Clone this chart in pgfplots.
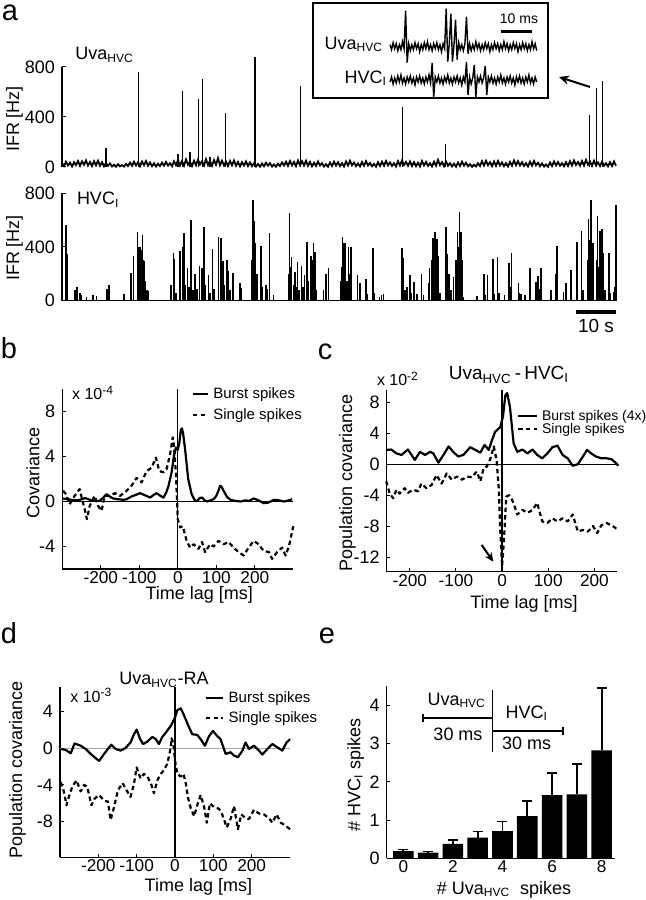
\documentclass[border=0pt]{standalone}
\usepackage{fontspec}
\setmainfont{Liberation Sans}
\usepackage{pgfplots}
\pgfplotsset{compat=1.18}
\usepackage{pgfplotstable}
\usetikzlibrary{arrows.meta}
\newcommand\fs[1]{\fontsize{#1}{#1}\selectfont}

\tikzset{
  solidc/.style={black, line width=1.1pt, line join=round},
  dashc/.style={black, line width=1.1pt, dash pattern=on 2.2pt off 1.6pt, line join=round},
}
\pgfplotsset{
  myax/.style={scale only axis, anchor=south west, axis line style={line width=0.6pt, black},
    tick align=inside, major tick length=1.8pt, tick style={line width=0.5pt, black},
    tick label style={font=\fs{9}}, xticklabel style={inner sep=1pt, font=\fs{8.6}},
    /pgf/number format/assume math mode=true, clip=false},
  lr/.style={axis x line*=bottom, axis y line*=left},
}

% ---- panel a: Uva_HVC baseline IFR (0.5 s steps)
\pgfplotstableread[header=false,row sep=\\]{
30\\8\\42\\12\\35\\5\\38\\15\\48\\10\\45\\18\\52\\12\\40\\8\\46\\14\\50\\10\\
38\\6\\32\\10\\28\\4\\18\\2\\22\\6\\15\\3\\25\\8\\35\\10\\42\\12\\38\\6\\
44\\14\\48\\10\\36\\6\\30\\4\\26\\8\\34\\10\\40\\12\\30\\6\\45\\15\\55\\12\\
48\\10\\60\\18\\42\\8\\50\\14\\58\\20\\45\\12\\62\\16\\48\\10\\55\\18\\70\\14\\
50\\12\\44\\8\\48\\14\\52\\10\\40\\6\\38\\12\\44\\8\\36\\6\\30\\4\\24\\2\\
28\\6\\34\\10\\30\\4\\20\\2\\26\\8\\36\\12\\42\\10\\48\\14\\40\\8\\52\\16\\
46\\12\\50\\10\\40\\6\\34\\8\\44\\12\\30\\4\\22\\2\\36\\8\\42\\10\\38\\6\\
30\\4\\44\\12\\50\\14\\36\\6\\28\\4\\40\\10\\46\\12\\32\\6\\24\\2\\38\\8\\
42\\10\\48\\14\\36\\8\\30\\4\\46\\12\\52\\16\\40\\10\\44\\8\\38\\6\\34\\4\\
48\\12\\40\\8\\30\\4\\42\\10\\56\\14\\38\\6\\44\\10\\30\\4\\26\\2\\36\\8\\
42\\10\\34\\6\\22\\2\\18\\4\\30\\8\\46\\12\\50\\14\\38\\6\\44\\10\\48\\12\\
36\\6\\30\\4\\40\\10\\52\\14\\46\\12\\38\\8\\30\\4\\42\\10\\48\\14\\34\\6\\
28\\4\\20\\2\\36\\8\\44\\12\\40\\10\\30\\6\\38\\8\\46\\12\\52\\16\\40\\10\\
48\\12\\56\\18\\44\\10\\50\\14\\36\\8\\42\\10\\30\\6\\38\\8\\44\\10\\
}\uvabase

\pgfplotstableread{
t v
11 152
19.2 762
29 104
30.2 608
32 122
34.1 541
35.1 706
37 82
40.9 429
48.25 877
59.7 648
85.1 482
95.9 181
131.8 416
133.7 629
135.1 691
}\uvaspk

\pgfplotstableread[row sep=\\]{
t v\\
1.0 564\\ 1.17 360\\ 1.4 350\\ 3.25 80\\ 3.8 100\\ 4.5 60\\ 4.9 40\\ 6.2 30\\ 7.8 40\\ 8.7 35\\
11.3 90\\ 11.75 120\\ 15.5 50\\ 17.2 204\\ 17.8 333\\ 18.9 514\\ 19.2 400\\ 19.5 400\\ 19.8 380\\ 20.1 489\\
20.3 300\\ 20.5 293\\ 20.8 150\\ 21.2 80\\ 21.6 70\\ 27.25 117\\ 27.8 353\\ 28.0 313\\ 28.5 60\\ 29.5 372\\
30.2 398\\ 30.5 507\\ 30.8 120\\ 31.3 241\\ 31.7 100\\ 32.25 601\\ 32.7 80\\ 33.25 199\\ 33.7 90\\ 34.3 258\\
35.0 241\\ 35.5 551\\ 35.8 120\\ 36.6 189\\ 37.0 60\\ 37.6 383\\ 38.0 90\\ 39.1 477\\ 39.7 465\\ 40.2 298\\
40.5 120\\ 41.2 305\\ 41.6 224\\ 42.0 80\\ 42.7 206\\ 44.5 130\\ 44.7 96\\ 47.5 300\\ 47.7 750\\ 47.8 450\\
48.0 596\\ 48.25 300\\ 48.4 427\\ 48.7 200\\ 49.75 408\\ 50.0 100\\ 51.0 117\\ 51.4 90\\ 51.8 502\\ 52.8 40\\
56.7 200\\ 56.8 656\\ 57.2 250\\ 57.4 328\\ 57.8 120\\ 58.2 216\\ 58.5 100\\ 58.9 285\\ 59.25 80\\ 59.9 258\\
60.25 100\\ 60.6 189\\ 61.2 440\\ 61.6 150\\ 62.2 333\\ 62.5 300\\ 62.8 427\\ 63.0 200\\ 63.25 363\\ 63.5 80\\
65.3 80\\ 66.0 199\\ 66.6 241\\ 69.7 150\\ 69.9 250\\ 70.1 477\\ 70.3 300\\ 70.5 430\\ 70.75 200\\ 70.9 432\\
71.2 150\\ 71.6 400\\ 71.8 200\\ 72.2 400\\ 72.4 80\\ 73.9 191\\ 74.5 130\\ 76.0 159\\ 76.3 50\\ 77.7 395\\
78.0 60\\ 79.3 30\\ 79.9 40\\ 80.3 50\\ 85.0 395\\ 85.2 250\\ 85.3 316\\ 85.75 80\\ 86.2 100\\ 87.0 189\\
87.4 60\\ 88.0 140\\ 88.7 50\\ 89.9 199\\ 90.3 40\\ 91.6 130\\ 91.8 241\\ 92.4 300\\ 92.7 465\\ 93.0 380\\
93.25 514\\ 93.5 300\\ 93.7 457\\ 94.1 333\\ 94.5 60\\ 96.0 551\\ 96.2 350\\ 96.4 313\\ 96.7 200\\ 96.8 180\\
97.2 80\\ 97.8 180\\ 98.5 300\\ 98.8 514\\ 99.1 400\\ 99.3 663\\ 99.5 450\\ 99.75 514\\ 100.0 300\\ 100.3 30\\
103.7 35\\ 105.5 199\\ 105.75 40\\ 106.4 191\\ 107.7 313\\ 108.0 50\\ 108.9 323\\ 109.2 60\\ 110.6 45\\ 111.75 283\\
112.0 100\\ 112.4 353\\ 114.1 135\\ 114.3 60\\ 114.7 50\\ 115.75 40\\ 117.0 241\\ 118.5 140\\ 119.0 182\\ 119.3 90\\
119.7 241\\ 119.9 60\\ 122.2 80\\ 123.5 197\\ 123.75 408\\ 125.3 65\\ 126.0 135\\ 127.25 231\\ 128.7 440\\ 128.9 60\\
129.9 522\\ 130.2 80\\ 131.4 300\\ 131.6 606\\ 131.8 398\\ 132.0 450\\ 132.25 750\\ 132.5 400\\ 132.7 430\\ 132.9 150\\
133.7 300\\ 133.9 631\\ 134.2 250\\ 134.5 522\\ 134.75 400\\ 135.0 532\\ 135.3 353\\ 135.7 80\\ 136.75 355\\ 137.0 60\\
137.8 65\\ 138.2 100\\ 138.5 713\\ 138.65 333\\
}\hvcspk

% ---- inset raw traces (0.5 ms steps)
\pgfplotstableread[header=false,row sep=\\]{
2\\-3\\4\\-2\\3\\-4\\2\\-3\\5\\-2\\
36\\-16\\3\\-4\\2\\-3\\4\\-2\\3\\-5\\
2\\-3\\4\\-2\\5\\-3\\2\\-4\\3\\-2\\
4\\-3\\2\\-5\\3\\-2\\38\\-15\\3\\33\\
-15\\2\\27\\-13\\4\\-3\\2\\-4\\3\\30\\
-7\\3\\-4\\2\\-3\\5\\-2\\3\\-4\\2\\
-3\\4\\-2\\3\\-5\\2\\-3\\4\\-2\\3\\
-4\\2\\-3\\5\\-2\\3\\-4\\2\\-3\\4\\
-2\\3\\-5\\2\\-3\\4\\-2\\3\\-4\\2\\
-3\\5\\-2\\3\\-4\\
}\insuva
\pgfplotstableread[header=false,row sep=\\]{
-2\\3\\-4\\2\\-3\\4\\-2\\5\\-3\\2\\
-4\\3\\-2\\4\\-3\\2\\-5\\3\\-2\\4\\
-3\\2\\-4\\3\\-2\\5\\-3\\17\\-17\\3\\
-2\\4\\-3\\2\\-4\\3\\-2\\5\\-3\\2\\
-4\\3\\-2\\4\\-3\\2\\-5\\3\\-2\\18\\
-15\\3\\-4\\2\\15\\-17\\3\\-2\\4\\-3\\
2\\14\\-15\\3\\-2\\4\\-3\\2\\-4\\3\\
-2\\5\\-3\\2\\-4\\3\\-2\\4\\-3\\2\\
-5\\3\\-2\\4\\-3\\2\\-4\\3\\-2\\5\\
-3\\2\\-4\\3\\-2\\
}\inshvc

\begin{document}
\begin{tikzpicture}[x=1pt,y=1pt]
\useasboundingbox (0,0) rectangle (322.5,450);

% ================= panel a =================
\begin{axis}[myax, at={(31pt,366.5pt)}, width=277pt, height=50pt,
  xmin=0, xmax=138.5, ymin=0, ymax=800, axis x line=none, axis y line*=left,
  xtick=\empty, ytick={0,400,800}]
\addplot[black, line width=0.9pt, line join=miter] table[x expr=\coordindex*0.5, y index=0] {\uvabase};
\addplot[ycomb, black, line width=0.6pt] table[x index=0, y index=1] {\uvaspk};
\end{axis}

\begin{axis}[myax, at={(31pt,299.65pt)}, width=277.5pt, height=53.7pt,
  xmin=0, xmax=138.75, ymin=0, ymax=800, axis x line=none, axis y line*=left,
  xtick=\empty, ytick={0,400,800}]
\addplot[black, line width=0.7pt] coordinates {(0,0) (138.75,0)};
\addplot[ycomb, black, line width=0.7pt] table[x index=0, y index=1] {\hvcspk};
\end{axis}

% inset
\begin{axis}[scale only axis, anchor=south west, at={(195pt,416.65pt)}, width=73.35pt, height=30pt,
  xmin=0, xmax=47, ymin=-20, ymax=40, hide axis, clip=false]
\addplot[black, line width=0.7pt] table[x expr=\coordindex*0.5, y index=0] {\insuva};
\end{axis}
\begin{axis}[scale only axis, anchor=south west, at={(195pt,400pt)}, width=73.35pt, height=20pt,
  xmin=0, xmax=47, ymin=-20, ymax=20, hide axis, clip=false]
\addplot[black, line width=0.7pt] table[x expr=\coordindex*0.5, y index=0] {\inshvc};
\end{axis}
\draw[line width=0.8pt] (156.5,401) rectangle (274,448.5);
\node[anchor=base east, font=\fs{9}, inner sep=0] at (191.7,425.3) {Uva\textsubscript{HVC}};
\node[anchor=base east, font=\fs{9}, inner sep=0] at (193.7,408.3) {HVC\textsubscript{I}};
\draw[line width=1.6pt] (250.5,434.2) -- (266.2,434.2);
\node[anchor=base, font=\fs{7}, inner sep=0] at (259.5,438) {10 ms};
\draw[-{Stealth[length=5pt,width=4.5pt]}, line width=1pt] (295,406.5) -- (279.5,411.5);

\node[font=\fs{14.5}, inner sep=0] at (5,443.5) {a};
\node[anchor=base west, font=\fs{9}, inner sep=0] at (37.5,420) {Uva\textsubscript{HVC}};
\node[anchor=base west, font=\fs{9}, inner sep=0] at (38.3,347.5) {HVC\textsubscript{I}};
\node[rotate=90, font=\fs{9}, inner sep=0] at (7.25,390.5) {IFR [Hz]};
\node[rotate=90, font=\fs{9}, inner sep=0] at (7.25,326) {IFR [Hz]};
\draw[line width=1.7pt] (288,294) -- (308,294);
\node[anchor=base, font=\fs{9.5}, inner sep=0] at (298,283.5) {10 s};

% ================= panel b =================
\begin{axis}[myax, lr, at={(31.15pt,165.5pt)}, width=115.5pt, height=90pt,
  xmin=-300, xmax=300, ymin=-6, ymax=10,
  xtick={-200,-100,0,100,200}, ytick={-4,0,4,8}]
\addplot[black, line width=0.5pt] coordinates {(-300,0) (300,0)};
\addplot[black, line width=0.6pt] coordinates {(0,-6) (0,10)};
\addplot[dashc] coordinates {
(-298,0.95) (-290,0.65) (-281,-0.24) (-268,0.5) (-255,1.1) (-242,-0.68) (-236,-1.57) (-229,-0.4)
(-216,0.5) (-207,-0.4) (-198,-0.83) (-190,0.5) (-177,0.5) (-163,0.74) (-150,0.5) (-133,0.95)
(-120,1.4) (-107,2.1) (-94,1.7) (-81,2.7) (-68,3.0) (-57,3.9) (-48,2.7) (-37,2.6) (-29,2.9)
(-20,4.2) (-13,5.7) (-10,4.9) (-5,2.6) (0,-1.57) (6,-2.3) (13,-2.2) (23,-3.5) (32,-4.1) (41,-3.8)
(54,-4.2) (63,-3.6) (71,-4.5) (84,-3.8) (93,-4.0) (106,-3.5) (119,-3.8) (132,-3.6) (145,-4.1)
(158,-4.5) (171,-4.8) (184,-4.1) (197,-3.5) (210,-3.8) (223,-4.4) (237,-4.5) (245,-5.1)
(258,-4.5) (271,-4.1) (280,-4.8) (289,-3.95) (300,-2.2)};
\addplot[solidc] coordinates {
(-300,0.27) (-285,0.2) (-270,0.1) (-255,0.15) (-240,0.3) (-225,0.1) (-210,0.05) (-203,0.06)
(-195,0.3) (-185,0.65) (-175,0.4) (-168,0.27) (-155,0.2) (-140,0.15) (-133,0.2) (-120,0.45)
(-108,0.6) (-98,0.74) (-85,0.55) (-72,0.35) (-62,0.6) (-55,0.74) (-45,0.5) (-37,0.35) (-30,0.8)
(-24,1.4) (-16,2.6) (-10,4.06) (-5,4.8) (0,4.6) (4,5.2) (8,6.4) (11,6.5) (14,6.0) (19,4.65)
(27,2.0) (36,0.65) (44,0.1) (50,0.05) (57,0.3) (63,0.35) (70,0.1) (76,0) (85,0.1) (93,0.2)
(100,0.5) (106,1.0) (110,1.4) (114,1.3) (119,0.95) (128,0.4) (137,0.15) (150,0.05) (163,0)
(175,0.1) (185,0.05) (197,0.27) (210,0.1) (223,-0.15) (235,-0.1) (250,0.15) (262,0.1) (276,0)
(288,0.1) (297,0.2)};
\end{axis}
\node[font=\fs{14.5}, inner sep=0] at (4.5,276) {b};
\node[anchor=base west, font=\fs{8}, inner sep=0] at (35.85,250) {x 10\textsuperscript{-4}};
\node[rotate=90, font=\fs{9}, inner sep=0] at (16.5,213.5) {Covariance};
\node[font=\fs{9}, inner sep=0] at (99.6,152.8) {Time lag [ms]};
\draw[solidc] (96.5,252.85) -- (104,252.85);
\node[anchor=west, font=\fs{7.5}, inner sep=0] at (106.5,252.5) {Burst spikes};
\draw[dashc] (96.5,242.5) -- (104,242.5);
\node[anchor=west, font=\fs{7.5}, inner sep=0] at (106.5,242.2) {Single spikes};

% ================= panel c =================
\begin{axis}[myax, lr, at={(193.35pt,164.15pt)}, width=115.4pt, height=90.85pt,
  xmin=-250, xmax=250, ymin=-13.9, ymax=9.6,
  xtick={-200,-100,0,100,200}, ytick={-12,-8,-4,0,4,8}]
\addplot[black, line width=0.5pt] coordinates {(-250,0) (250,0)};
\addplot[black, line width=0.7pt] coordinates {(0,-13.9) (0,9.6)};
\addplot[dashc] coordinates {
(-251,-2.2) (-244,-3.7) (-236,-4.4) (-229,-3.3) (-222,-3.8) (-211,-3.1) (-204,-3.7) (-193,-3.3)
(-182,-3.5) (-175,-2.5) (-164,-3.1) (-153,-2.7) (-142,-1.4) (-131,-2.5) (-120,-1.2) (-109,-2.0)
(-98,-1.6) (-87,-2.0) (-76,-1.6) (-66,-1.7) (-55,-0.95) (-47,-2.2) (-40,-0.5) (-33,-0.3)
(-25,0.77) (-18,2.3) (-12,0.56) (-7,-3.3) (-4,-8.5) (0,-13.2) (4,-9.8) (9,-4.2) (15,-4.0)
(20,-4.4) (25,-5.1) (33,-6.5) (44,-5.9) (55,-6.3) (66,-5.9) (76,-5.0) (87,-7.4) (98,-7.6)
(109,-7.0) (120,-7.4) (131,-7.0) (142,-7.4) (153,-6.5) (164,-8.7) (175,-8.5) (186,-8.7)
(197,-8.0) (206,-8.9) (215,-7.9) (226,-7.6) (237,-7.9) (247,-8.3) (253,-8.4)};
\addplot[solidc] coordinates {
(-251,1.85) (-240,1.9) (-229,1.4) (-218,1.2) (-204,1.9) (-189,0.56) (-178,1.6) (-167,1.2)
(-156,1.6) (-149,1.4) (-138,0.2) (-127,1.2) (-116,2.3) (-106,1.6) (-95,1.0) (-84,1.2) (-69,2.2)
(-58,1.85) (-47,1.5) (-38,2.5) (-29,1.85) (-22,3.1) (-15,4.2) (-4,4.8) (2,6.2) (7,8.9) (11,9.2)
(17,7.4) (25,2.7) (33,1.6) (44,1.9) (55,1.4) (66,1.9) (76,1.2) (87,0.77) (98,1.4) (109,2.2)
(120,2.4) (131,1.2) (142,0.77) (153,-0.2) (164,0) (175,0.98) (184,1.85) (193,1.4) (204,0.98)
(215,0.77) (226,0.77) (237,0.65) (247,0.13) (252,-0.2)};
\end{axis}
\node[font=\fs{14.5}, inner sep=0] at (162.5,274) {c};
\node[anchor=base west, font=\fs{8}, inner sep=0] at (188.3,257) {x 10\textsuperscript{-2}};
\node[anchor=base, font=\fs{9.5}, inner sep=0] at (254.5,260) {Uva\textsubscript{HVC}\,-\,HVC\textsubscript{I}};
\node[rotate=90, font=\fs{9}, inner sep=0] at (173.75,208.35) {Population covariance};
\node[font=\fs{9}, inner sep=0] at (262,148.3) {Time lag [ms]};
\draw[solidc] (259.15,242) -- (268.35,242);
\node[anchor=west, font=\fs{7}, inner sep=0] at (270.85,241.7) {Burst spikes (4x)};
\draw[dashc] (259.15,235.35) -- (268.35,235.35);
\node[anchor=west, font=\fs{7}, inner sep=0] at (270.85,235) {Single spikes};
\draw[-{Stealth[length=4.5pt,width=4pt]}, line width=1pt] (240.85,177.5) -- (246.65,169.15);

% ================= panel d =================
\begin{axis}[myax, lr, at={(30pt,21.35pt)}, width=115pt, height=85.3pt,
  xmin=-300, xmax=300, ymin=-11.85, ymax=6.65,
  xtick={-200,-100,0,100,200}, ytick={-8,-4,0,4}]
\addplot[gray!70, line width=0.4pt] coordinates {(-300,0) (300,0)};
\addplot[black, line width=0.6pt] coordinates {(0,-11.85) (0,6.65)};
\addplot[dashc] coordinates {
(-298,-3.7) (-290,-4.7) (-283,-6.2) (-277,-5.3) (-268,-4.2) (-257,-3.5) (-246,-4.7) (-237,-4.0)
(-229,-4.2) (-218,-6.2) (-210,-5.5) (-198,-5.1) (-185,-5.7) (-175,-5.8) (-168,-7.8) (-159,-6.4)
(-149,-4.6) (-137,-3.8) (-126,-4.6) (-116,-5.3) (-107,-3.9) (-100,-2.1) (-90,-3.3) (-81,-2.8)
(-72,-3.1) (-63,-3.8) (-55,-4.9) (-46,-3.5) (-37,-2.8) (-29,-2.4) (-20,-1.7) (-11,0.07) (-9,1.07)
(-4,0.43) (0,-1.35) (6,-2.8) (15,-3.1) (22,-2.8) (28,-3.8) (34,-5.4) (41,-6.5) (50,-7.4) (58,-6.2)
(67,-5.1) (76,-6.4) (83,-8.1) (91,-6.0) (102,-6.4) (115,-6.6) (123,-7.2) (135,-8.6) (145,-7.7)
(154,-6.3) (164,-8.8) (173,-7.2) (184,-7.6) (193,-7.7) (206,-6.7) (219,-7.1) (232,-7.2) (245,-7.6)
(254,-8.1) (265,-7.2) (276,-8.1) (284,-8.3) (300,-8.8)};
\addplot[solidc] coordinates {
(-298,-0.1) (-285,-0.21) (-272,-0.57) (-262,0.5) (-246,0.25) (-233,-0.1) (-220,-0.64) (-207,-1.1)
(-198,-1.4) (-185,-0.64) (-175,-0.1) (-166,0.36) (-155,-0.1) (-142,-0.28) (-129,0) (-116,0.6)
(-107,1.5) (-100,2.0) (-91,0.96) (-83,0.43) (-72,0.7) (-59,1.2) (-50,0.96) (-42,0.43) (-33,1.2)
(-24,1.67) (-11,2.4) (0,3.3) (6,4.1) (15,4.3) (23,3.6) (35,2.4) (45,1.5) (58,1.42) (67,0.96)
(78,0.25) (89,1.3) (99,1.85) (110,1.3) (119,0.96) (132,-0.64) (145,-0.46) (154,-0.82) (164,-1.0)
(176,-0.28) (184,0.6) (193,-0.1) (206,0.25) (219,-0.28) (228,-0.71) (241,-0.1) (254,0.43)
(267,0.07) (280,-0.28) (291,0.6) (300,0.96)};
\end{axis}
\node[font=\fs{14.5}, inner sep=0] at (4.5,133.5) {d};
\node[anchor=base west, font=\fs{8}, inner sep=0] at (35,98.7) {x 10\textsuperscript{-3}};
\node[anchor=base, font=\fs{9}, inner sep=0] at (82,107.5) {Uva\textsubscript{HVC}-RA};
\node[rotate=90, font=\fs{9}, inner sep=0] at (8.75,65) {Population covariance};
\node[font=\fs{9}, inner sep=0] at (99.2,6.5) {Time lag [ms]};
\draw[solidc] (103,101) -- (111.65,101);
\node[anchor=west, font=\fs{7.5}, inner sep=0] at (114.15,100.7) {Burst spikes};
\draw[dashc] (103,91) -- (111.65,91);
\node[anchor=west, font=\fs{7.5}, inner sep=0] at (114.15,90.7) {Single spikes};

% ================= panel e =================
\begin{axis}[myax, lr, at={(193.35pt,20.85pt)}, width=114.15pt, height=86.15pt,
  xmin=-0.67, xmax=8.54, ymin=0, ymax=4.5,
  xtick={0,2,4,6,8}, ytick={0,1,2,3,4}]
\addplot[ybar, bar width=0.83, fill=black, draw=none,
  error bars/.cd, y dir=plus, y explicit,
  error bar style={line width=0.9pt, black},
  error mark options={rotate=90, mark size=2.5pt, line width=0.9pt, black}]
coordinates {
(0,0.19) +- (0,0.04)
(1,0.15) +- (0,0.03)
(2,0.38) +- (0,0.09)
(3,0.54) +- (0,0.16)
(4,0.71) +- (0,0.25)
(5,1.10) +- (0,0.40)
(6,1.65) +- (0,0.57)
(7,1.67) +- (0,0.80)
(8,2.82) +- (0,1.62)};
\end{axis}
\node[font=\fs{14.5}, inner sep=0] at (163.5,132) {e};
\node[rotate=90, font=\fs{9}, inner sep=0] at (177.9,62.5) {\# HVC\textsubscript{I} spikes};
\node[font=\fs{9}, inner sep=0] at (252,5) {\# Uva\textsubscript{HVC}\ \ spikes};
\draw[line width=0.6pt] (246.15,105) -- (246.15,74.15);
\draw[line width=1pt] (211.35,90.85) -- (246.15,90.85);
\draw[line width=1pt] (211.35,88.85) -- (211.35,92.85);
\draw[line width=1pt] (246.15,84.5) -- (281.65,84.5);
\draw[line width=1pt] (281.65,82.3) -- (281.65,86.7);
\node[font=\fs{9}, inner sep=0] at (228.35,100) {Uva\textsubscript{HVC}};
\node[font=\fs{9}, inner sep=0] at (229,83) {30 ms};
\node[font=\fs{9}, inner sep=0] at (263.35,93.35) {HVC\textsubscript{I}};
\node[font=\fs{9}, inner sep=0] at (263.35,78.35) {30 ms};
\end{tikzpicture}
\end{document}
